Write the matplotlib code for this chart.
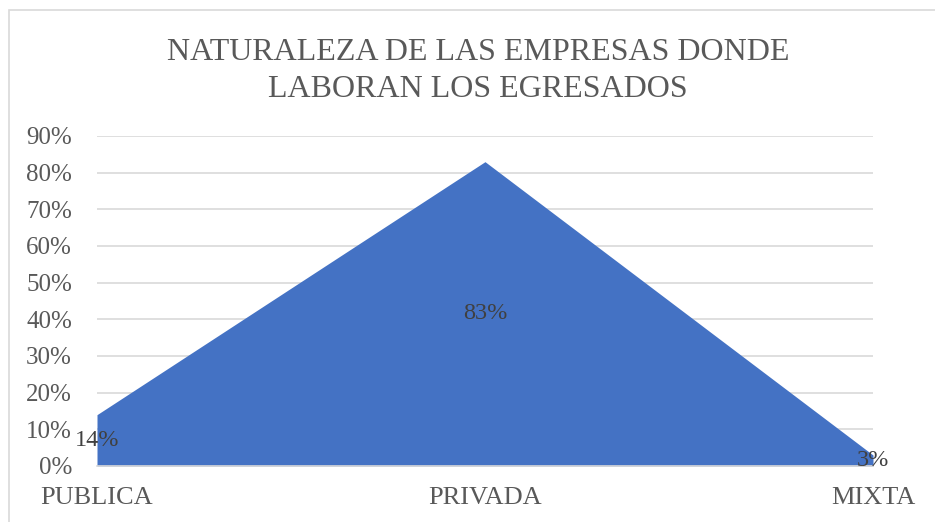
import matplotlib.pyplot as plt
import matplotlib.patches as patches
from matplotlib.ticker import PercentFormatter

categorias = ["PUBLICA", "PRIVADA", "MIXTA"]
porcentajes = [0.14, 0.83, 0.03]
etiquetas = ["14%", "83%", "3%"]
titulo = "NATURALEZA DE LAS EMPRESAS DONDE\nLABORAN LOS EGRESADOS"

plt.rcParams['font.family'] = ['Liberation Serif', 'DejaVu Serif']

fig = plt.figure(figsize=(9.35, 5.22), dpi=100)
ax = fig.add_axes([97 / 935, 1 - 466 / 522, 776 / 935, 330 / 522])

# marco gris del grafico
fig.patches.append(patches.Rectangle((9 / 935, -0.05), 1.0, 1 - 10 / 522 + 0.05,
                                     transform=fig.transFigure, fill=False,
                                     edgecolor='#D9D9D9', lw=1.2))

x = range(len(categorias))
ax.fill_between(x, 0, porcentajes, color='#4472C4', lw=0, zorder=2)

for i, (v, txt) in enumerate(zip(porcentajes, etiquetas)):
    ax.text(i, v / 2, txt, ha='center', va='center', fontsize=17.5, color='#404040', zorder=3)

ax.set_xlim(0, len(categorias) - 1)
ax.set_ylim(0, 0.9)
ax.set_yticks([i / 10 for i in range(10)])
ax.yaxis.set_major_formatter(PercentFormatter(1.0, decimals=0))
ax.set_xticks(list(x))
ax.set_xticklabels(categorias)
ax.tick_params(axis='y', length=0, pad=18, labelsize=18, labelcolor='#595959')
ax.tick_params(axis='x', length=0, pad=15, labelsize=19, labelcolor='#595959')
ax.grid(axis='y', color='#D9D9D9', lw=1.2, zorder=1)
ax.set_axisbelow(True)
for s in ['top', 'right', 'left']:
    ax.spines[s].set_visible(False)
ax.spines['bottom'].set_color('#D9D9D9')
ax.spines['bottom'].set_linewidth(1.2)

fig.text(478 / 935, 1 - 71 / 522, titulo, ha='center', va='center', fontsize=23,
         color='#595959', linespacing=1.35)

fig.savefig("out.png", dpi=100)
